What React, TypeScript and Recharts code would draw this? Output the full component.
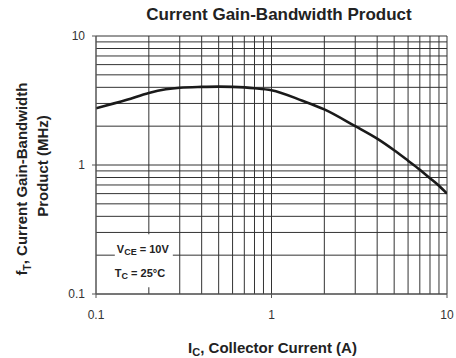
import { LineChart, Line, XAxis, YAxis, CartesianGrid, ReferenceArea } from "recharts";

const FONT = '"Liberation Sans", Arial, Helvetica, sans-serif';

// collector current (A) and fT (MHz)
const IC = [0.1, 0.15, 0.2, 0.25, 0.3, 0.4, 0.5, 0.6, 0.8, 1, 1.5, 2, 3, 4, 5, 6, 7, 8, 9, 10];
const FT = [2.75, 3.2, 3.62, 3.86, 3.97, 4.03, 4.05, 4.03, 3.94, 3.8, 3.15, 2.7, 2.0, 1.6, 1.3, 1.08, 0.92, 0.79, 0.69, 0.6];

// log grid lines and the labelled decades
const GRID = [0.1, 0.2, 0.3, 0.4, 0.5, 0.6, 0.7, 0.8, 0.9, 1, 2, 3, 4, 5, 6, 7, 8, 9, 10];
const DECADES = [0.1, 1, 10];
const DECADE_LABELS = ["0.1", "1", "10"];

// white box behind the test conditions (data units)
const NOTE_X = [0.128, 0.274];
const NOTE_Y = [0.113, 0.29];

const data = IC.map((ic, i) => ({ ic, ft: FT[i] }));

function decadeLabel(v: number) {
  const i = DECADES.findIndex((d) => Math.abs(d - v) < 1e-9);
  return i >= 0 ? DECADE_LABELS[i] : null;
}

function XTick({ x, y, payload }: any) {
  const label = decadeLabel(payload.value);
  if (!label) return <g />;
  return (
    <g>
      <line x1={x} y1={y} x2={x} y2={y + 4} stroke="#555" />
      <text x={x} y={y + 25} textAnchor="middle" fontSize={12} fontFamily={FONT} fill="#333">
        {label}
      </text>
    </g>
  );
}

function YTick({ x, y, payload }: any) {
  const label = decadeLabel(payload.value);
  if (!label) return <g />;
  return (
    <g>
      <line x1={x - 4} y1={y} x2={x} y2={y} stroke="#555" />
      <text x={x - 11} y={y} dy="0.36em" textAnchor="end" fontSize={12} fontFamily={FONT} fill="#333">
        {label}
      </text>
    </g>
  );
}

function XTitle({ viewBox }: any) {
  const cx = viewBox.x + viewBox.width / 2 + 1;
  return (
    <text x={cx} y={viewBox.y + 59} textAnchor="middle" fontSize={15} fontWeight="bold" fontFamily={FONT} fill="#222">
      I<tspan fontSize={11} dy={3}>C</tspan>
      <tspan dy={-3}>, Collector Current (A)</tspan>
    </text>
  );
}

function YTitle({ viewBox }: any) {
  const cy = viewBox.y + viewBox.height / 2;
  return (
    <g fontWeight="bold" fontFamily={FONT} fill="#222" fontSize={15}>
      <text transform={`translate(27, ${cy + 14}) rotate(-90)`} textAnchor="middle">
        f<tspan fontSize={10} dy={4}>T</tspan>
        <tspan dy={-4}>, Current Gain-Bandwidth</tspan>
      </text>
      <text transform={`translate(48, ${cy + 1}) rotate(-90)`} textAnchor="middle">
        Product (MHz)
      </text>
    </g>
  );
}

function NoteLabel({ viewBox }: any) {
  const { x, y } = viewBox;
  return (
    <g fontFamily={FONT} fontWeight="bold" fontSize={11} fill="#222">
      <text x={x + 2} y={y + 19}>
        V<tspan fontSize={9} dy={2}>CE</tspan>
        <tspan dy={-2}> = 10V</tspan>
      </text>
      <text x={x} y={y + 43}>
        T<tspan fontSize={9} dy={2}>C</tspan>
        <tspan dy={-2}> = 25°C</tspan>
      </text>
    </g>
  );
}

export default function App() {
  return (
    <div style={{ position: "absolute", left: 0, top: 0, width: 456, height: 358, background: "#fff" }}>
      <div
        style={{
          position: "absolute",
          left: 279,
          top: 6,
          transform: "translateX(-50%)",
          whiteSpace: "nowrap",
          font: `bold 17px ${FONT}`,
          lineHeight: "17px",
          color: "#222",
        }}
      >
        Current Gain-Bandwidth Product
      </div>
      <LineChart width={456} height={358} data={data} margin={{ top: 36, right: 9, bottom: 34, left: 0 }}>
        <CartesianGrid stroke="#333" strokeWidth={1} />
        <XAxis
          dataKey="ic"
          type="number"
          scale="log"
          domain={[0.1, 10]}
          ticks={GRID}
          interval={0}
          allowDataOverflow
          height={30}
          tickSize={0}
          tickMargin={0}
          tickLine={false}
          axisLine={{ stroke: "#555" }}
          tick={<XTick />}
          label={XTitle}
        />
        <YAxis
          dataKey="ft"
          type="number"
          scale="log"
          domain={[0.1, 10]}
          ticks={GRID}
          interval={0}
          allowDataOverflow
          width={96}
          tickSize={0}
          tickMargin={0}
          tickLine={false}
          axisLine={{ stroke: "#666" }}
          tick={<YTick />}
          label={YTitle}
        />
        <ReferenceArea
          x1={NOTE_X[0]}
          x2={NOTE_X[1]}
          y1={NOTE_Y[0]}
          y2={NOTE_Y[1]}
          fill="#fff"
          fillOpacity={1}
          stroke="none"
          label={NoteLabel}
        />
        <Line
          type="monotone"
          dataKey="ft"
          stroke="#1a1a1a"
          strokeWidth={2.6}
          dot={false}
          isAnimationActive={false}
        />
      </LineChart>
    </div>
  );
}
